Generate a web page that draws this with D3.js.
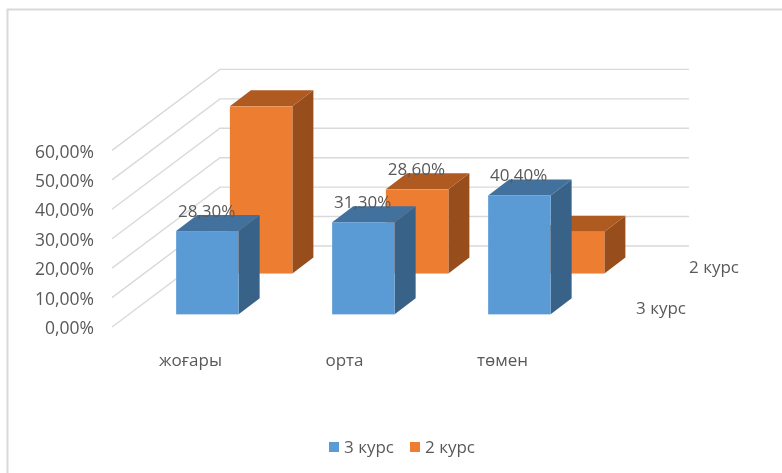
<!DOCTYPE html>
<html>
<head>
<meta charset="utf-8">
<script src="https://cdn.jsdelivr.net/npm/d3@7"></script>
<style>
  html, body { margin: 0; padding: 0; background: #fff; }
  svg { display: block; filter: blur(0.4px); }
  text { font-family: "Open Sans", sans-serif; fill: #595959; }
</style>
</head>
<body>
<div id="chart"></div>
<script>
// data
const categories = ["жоғары", "орта", "төмен"];
const seriesNames = ["3 курс", "2 курс"];
const course3 = [28.3, 31.3, 40.4];
const course2 = [56.8, 28.6, 14.2];
const course3Labels = ["28,30%", "31,30%", "40,40%"];
const course2Labels = [null, "28,60%", null];
const yTicks = [0, 10, 20, 30, 40, 50, 60];
const depthLabels = ["3 курс", "2 курс"];
const colors = ["#5b9bd5", "#ed7d31"];
const topColors = ["#41719c", "#ae5a21"];
const sideColors = ["#386288", "#974e1c"];

function init() {
  const width = 782, height = 473;

  const svg = d3.select("#chart").append("svg")
    .attr("width", width)
    .attr("height", height);

  // outer frame, only top and left are visible
  svg.append("path")
    .attr("d", "M7.5,473V9.5H782")
    .attr("fill", "none")
    .attr("stroke", "#d9d9d9")
    .attr("stroke-width", 2);

  // front left corner of the floor and the depth vector of the box
  const origin = { x: 112, y: 327 };
  const depthX = 108, depthY = -81;
  const backRight = 689;

  const yScale = d3.scaleLinear().domain([0, 60]).range([0, 176.6]);
  const xScale = d3.scaleLinear().domain([0, 3]).range([159.3, 627.3]);
  const depthScale = d3.scalePoint().domain(seriesNames).range([0.156, 0.66]);
  const barWidth = 62.5, barDx = 21, barDy = 16;
  const rowNudge = [0, -0.7];

  // gridlines go along the side wall, then along the back wall
  svg.append("g").selectAll("path")
    .data(yTicks)
    .enter().append("path")
    .attr("fill", "none")
    .attr("stroke", "#d9d9d9")
    .attr("stroke-width", 1.4)
    .attr("d", d => {
      const y0 = origin.y - yScale(d);
      return "M" + origin.x + "," + y0 +
        "L" + (origin.x + depthX) + "," + (y0 + depthY) +
        "H" + backRight;
    });

  // y axis labels
  const yAxis = svg.append("g")
    .attr("transform", "translate(100," + (origin.y + 1) + ")")
    .call(d3.axisLeft(d3.scaleLinear().domain([0, 60]).range([0, -176.6]))
      .tickValues(yTicks)
      .tickSize(0)
      .tickPadding(6)
      .tickFormat(d => d + ",00%"));
  yAxis.select(".domain").remove();
  yAxis.selectAll("text").style("font-size", "17.5px").attr("fill", "#595959");

  function drawBars(values, s) {
    const d = depthScale(seriesNames[s]);
    const shiftX = depthX * d + rowNudge[s], baseY = origin.y + depthY * d;
    const g = svg.append("g");
    values.forEach((v, i) => {
      const x0 = xScale(i) + shiftX, x1 = x0 + barWidth;
      const top = baseY - yScale(v);
      g.append("polygon")
        .attr("fill", sideColors[s])
        .attr("points", [[x1, baseY], [x1 + barDx, baseY - barDy], [x1 + barDx, top - barDy], [x1, top]].join(" "));
      g.append("polygon")
        .attr("fill", topColors[s])
        .attr("points", [[x0, top], [x0 + barDx, top - barDy], [x1 + barDx, top - barDy], [x1, top]].join(" "));
      g.append("rect")
        .attr("x", x0).attr("y", top)
        .attr("width", barWidth).attr("height", baseY - top)
        .attr("fill", colors[s]);
    });
  }

  function drawLabels(values, labels, s) {
    const d = depthScale(seriesNames[s]);
    values.forEach((v, i) => {
      if (!labels[i]) return;
      svg.append("text")
        .attr("x", xScale(i) + depthX * d + rowNudge[s] + 30.5)
        .attr("y", origin.y + depthY * d - yScale(v) - 14.5)
        .attr("text-anchor", "middle")
        .style("font-size", "17px")
        .text(labels[i]);
    });
  }

  // back row first so the front row covers it
  drawBars(course2, 1);
  drawBars(course3, 0);
  drawLabels(course2, course2Labels, 1);
  drawLabels(course3, course3Labels, 0);

  // category labels
  svg.append("g").selectAll("text")
    .data(categories)
    .enter().append("text")
    .attr("x", (d, i) => [190.5, 344.5, 502.5][i])
    .attr("y", 366)
    .attr("text-anchor", "middle")
    .style("font-size", "17px")
    .text(d => d);

  // series names on the depth axis
  svg.append("text").attr("x", 689).attr("y", 273).style("font-size", "17px").text(depthLabels[1]);
  svg.append("text").attr("x", 636).attr("y", 314).style("font-size", "17px").text(depthLabels[0]);

  // legend
  const legendX = [329, 410];
  seriesNames.forEach((name, i) => {
    svg.append("rect")
      .attr("x", legendX[i]).attr("y", 442)
      .attr("width", 10).attr("height", 10)
      .attr("fill", colors[i]);
    svg.append("text")
      .attr("x", legendX[i] + 15).attr("y", 453)
      .style("font-size", "17px")
      .text(name);
  });
}

window.onload = init;
</script>
</body>
</html>
